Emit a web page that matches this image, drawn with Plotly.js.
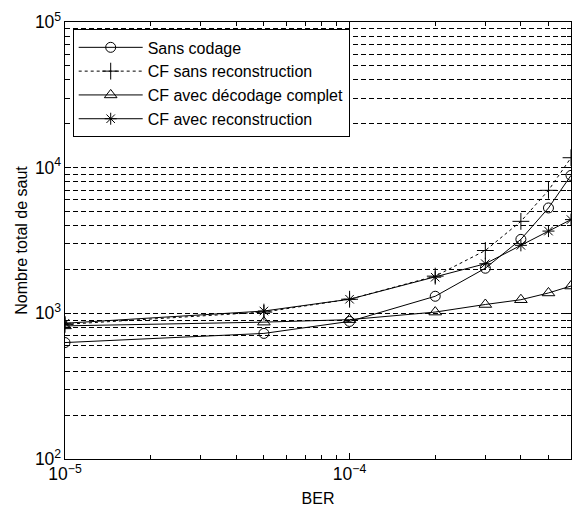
<!DOCTYPE html>
<html>
<head>
<meta charset="utf-8">
<script src="https://cdn.plot.ly/plotly-3.0.1.min.js"></script>
<style>html,body{margin:0;padding:0;background:#fff;}#chart{width:574px;height:510px;}</style>
</head>
<body>
<div id="chart"></div>
<script>
// Data
const ber = [1e-5, 5e-5, 1e-4, 2e-4, 3e-4, 4e-4, 5e-4, 6e-4];
const sansCodage = [630, 728, 880, 1310, 2040, 3220, 5290, 8850];
const cfSansReconstruction = [840, 1020, 1250, 1800, 2700, 4280, 6990, 11700];
const cfDecodageComplet = [820, 870, 905, 1020, 1150, 1240, 1380, 1540];
const cfAvecReconstruction = [855, 1037, 1250, 1770, 2190, 2930, 3670, 4400];
const seriesNames = ['Sans codage', 'CF sans reconstruction', 'CF avec décodage complet', 'CF avec reconstruction'];
const xTitle = 'BER';
const yTitle = 'Nombre total de saut';

const FONT = 'Liberation Sans, Arial, sans-serif';

const traces = [
  {x: ber, y: sansCodage, name: seriesNames[0], mode: 'lines+markers',
   line: {color: '#000', width: 1},
   marker: {symbol: 'circle-open', size: 10, color: '#000', line: {width: 1, color: '#000'}}},
  {x: ber, y: cfSansReconstruction, name: seriesNames[1], mode: 'lines+markers',
   line: {color: '#000', width: 1, dash: '3px,3px'},
   marker: {symbol: 'cross-thin-open', size: 12, color: '#000', line: {width: 1, color: '#000'}}},
  {x: ber, y: cfDecodageComplet, name: seriesNames[2], mode: 'lines+markers',
   line: {color: '#000', width: 1},
   marker: {symbol: 'triangle-up-open', size: 11, color: '#000', line: {width: 1, color: '#000'}}},
  {x: ber, y: cfAvecReconstruction, name: seriesNames[3], mode: 'lines+markers',
   line: {color: '#000', width: 1},
   marker: {symbol: 'asterisk-open', size: 10, color: '#000', line: {width: 1, color: '#000'}}}
];

const layout = {
  width: 574, height: 510,
  margin: {l: 65, r: 3, t: 22, b: 51},
  paper_bgcolor: '#fff', plot_bgcolor: '#fff',
  font: {family: FONT, color: '#000', size: 14},
  showlegend: true,
  legend: {
    x: 0.0152, y: 0.983, xanchor: 'left', yanchor: 'top',
    bgcolor: '#fff', bordercolor: '#000', borderwidth: 1,
    font: {family: FONT, size: 16, color: '#000'},
    itemwidth: 64, tracegroupgap: 0
  },
  xaxis: {
    type: 'log', range: [-5, Math.log10(6e-4)],
    showgrid: false, zeroline: false,
    showline: true, linecolor: '#000', linewidth: 1, mirror: 'allticks',
    ticks: 'inside', ticklen: 6, tickcolor: '#000',
    dtick: 1, exponentformat: 'power',
    tickfont: {family: FONT, size: 14, color: '#000'},
    minor: {ticks: 'inside', ticklen: 4, dtick: 'D1', tickcolor: '#000', showgrid: false},
    title: {text: xTitle, font: {family: FONT, size: 16, color: '#000'}, standoff: 9}
  },
  yaxis: {
    type: 'log', range: [2, 5],
    showgrid: true, gridcolor: '#000', gridwidth: 1, griddash: '5px,3px',
    zeroline: false,
    showline: true, linecolor: '#000', linewidth: 1, mirror: 'allticks',
    ticks: 'inside', ticklen: 6, tickcolor: '#000',
    dtick: 1, exponentformat: 'power',
    tickfont: {family: FONT, size: 14, color: '#000'},
    minor: {ticks: 'inside', ticklen: 4, dtick: 'D1', tickcolor: '#000',
            showgrid: true, gridcolor: '#000', gridwidth: 1, griddash: '5px,3px'},
    title: {text: yTitle, font: {family: FONT, size: 16, color: '#000'}, standoff: 3}
  }
};

Plotly.newPlot('chart', traces, layout, {displayModeBar: false, staticPlot: true});
</script>
</body>
</html>
